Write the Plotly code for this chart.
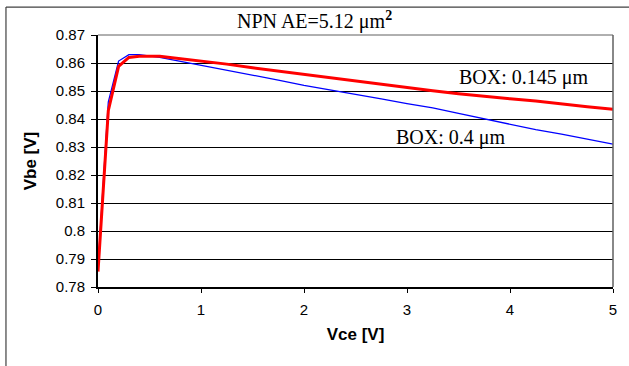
import plotly.graph_objects as go

vce_blue = [0, 0.1, 0.2, 0.3, 0.4, 0.5, 0.6, 0.7, 0.8, 0.9, 1.0, 1.25, 1.5, 1.75, 2.0, 2.25,
            2.5, 2.75, 3.0, 3.25, 3.5, 3.75, 4.0, 4.25, 4.5, 4.75, 5.0]
vbe_box_04 = [0.787, 0.846, 0.8607, 0.8630, 0.8630, 0.8626, 0.8620, 0.8613, 0.8606, 0.8600,
              0.8593, 0.8575, 0.8558, 0.8539, 0.8520, 0.8504, 0.8490, 0.8472, 0.8455, 0.8440,
              0.8420, 0.8401, 0.8381, 0.8362, 0.8346, 0.8328, 0.8310]

vce_red = [0, 0.1, 0.2, 0.3, 0.4, 0.5, 0.6, 0.7, 0.8, 0.9, 1.0, 1.25, 1.5, 1.75, 2.0, 2.25,
           2.5, 2.75, 3.0, 3.25, 3.5, 3.75, 4.0, 4.25, 4.5, 4.75, 5.0]
vbe_box_0145 = [0.7855, 0.843, 0.8588, 0.8620, 0.8624, 0.8625, 0.8624, 0.8620, 0.8616, 0.8612,
                0.8608, 0.8596, 0.8583, 0.8571, 0.8560, 0.8548, 0.8536, 0.8524, 0.8513, 0.8501,
                0.8490, 0.8480, 0.8472, 0.8464, 0.8453, 0.8444, 0.8435]

x_ticks = [0, 1, 2, 3, 4, 5]
y_ticks = [0.78, 0.79, 0.80, 0.81, 0.82, 0.83, 0.84, 0.85, 0.86, 0.87]
y_tick_labels = ["0.78", "0.79", "0.8", "0.81", "0.82", "0.83", "0.84", "0.85", "0.86", "0.87"]

fig = go.Figure()
fig.add_trace(go.Scatter(x=vce_blue, y=vbe_box_04, mode="lines",
                         line=dict(color="#0000FF", width=1.3), showlegend=False))
fig.add_trace(go.Scatter(x=vce_red, y=vbe_box_0145, mode="lines",
                         line=dict(color="#FF0000", width=3), showlegend=False))

sans = "Liberation Sans, Arial"
serif = "Liberation Serif, Times New Roman"
tick_font = dict(family=sans, size=15, color="black")
fig.update_layout(
    width=629, height=366,
    margin=dict(l=98, r=16, t=35, b=79),
    paper_bgcolor="white", plot_bgcolor="white",
    showlegend=False,
    xaxis=dict(range=[0, 5], tickvals=x_ticks, ticks="outside", ticklen=4, tickcolor="black",
               showline=True, linecolor="black", linewidth=2, showgrid=False, zeroline=False,
               tickfont=tick_font, ticklabelstandoff=4,
               title=dict(text="<b>Vce [V]</b>", font=dict(family=sans, size=17, color="black"),
                          standoff=11)),
    yaxis=dict(range=[0.78, 0.87], tickvals=y_ticks, ticktext=y_tick_labels, ticks="outside",
               ticklen=5, tickcolor="black",
               showline=True, linecolor="black", linewidth=2, showgrid=True, gridcolor="#000000",
               gridwidth=1, zeroline=False, tickfont=tick_font, ticklabelstandoff=3,
               title=dict(text="<b>Vbe [V]</b>", font=dict(family=sans, size=17, color="black"),
                          standoff=15)),
)

# plot frame top/right gray lines
fig.add_shape(type="line", xref="paper", yref="paper", x0=0, x1=1, y0=1, y1=1,
              line=dict(color="#606060", width=1))
fig.add_shape(type="line", xref="paper", yref="paper", x0=1, x1=1, y0=0, y1=1,
              line=dict(color="#606060", width=1.5))
# outer chart border (left and top edges visible)
fig.add_shape(type="line", xref="paper", yref="paper", x0=-0.1787, x1=-0.1787, y0=-0.4, y1=1.111,
              line=dict(color="#404040", width=1.2))
fig.add_shape(type="line", xref="paper", yref="paper", x0=-0.1787, x1=1.04, y0=1.111, y1=1.111,
              line=dict(color="#404040", width=1.2))

fig.add_annotation(xref="paper", yref="paper", x=0.2663, y=1.0, xanchor="left", yanchor="bottom", yshift=0,
                   text="NPN AE=5.12 μm<sup><b>2</b></sup>", showarrow=False,
                   font=dict(family=serif, size=20, color="black"))
fig.add_annotation(x=4.79, y=0.855, xanchor="right", yanchor="middle",
                   text="BOX: 0.145 μm", showarrow=False,
                   font=dict(family=serif, size=20, color="black"))
fig.add_annotation(x=3.98, y=0.8335, xanchor="right", yanchor="middle",
                   text="BOX: 0.4 μm", showarrow=False,
                   font=dict(family=serif, size=20, color="black"))

fig.write_html("out.html", config={"displayModeBar": False},
               post_script="document.body.style.margin='0';document.body.style.overflow='hidden';"
                           "document.documentElement.style.overflow='hidden';"
                           "document.documentElement.style.scrollbarWidth='none';")
